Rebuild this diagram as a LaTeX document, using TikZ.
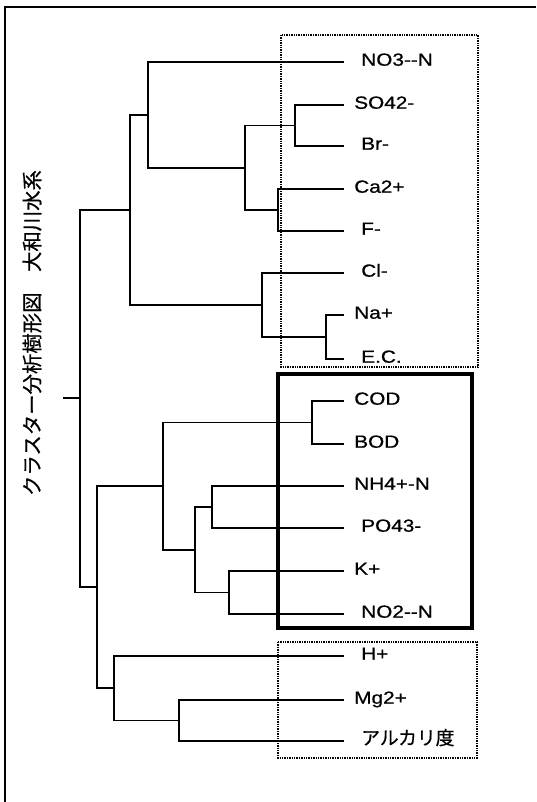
\documentclass[tikz,border=0pt]{standalone}
\usepackage{fontspec}
\usepackage{tikz}
\setmainfont{Liberation Sans}
\newfontfamily\labelfont{Liberation Sans}[FakeStretch=1.18, FakeBold=0.7]
\newfontfamily\jpfont{Noto Sans CJK JP}[FakeBold=0.6]

\begin{document}
\begin{tikzpicture}[
    x=0.75pt, y=-0.75pt,
    leaf/.style={anchor=base west, inner sep=0pt, yshift=-2.8pt,
      font=\labelfont\fontsize{13.2}{15}\selectfont},
    jleaf/.style={leaf, font=\jpfont\fontsize{14.1}{16}\selectfont},
    heading/.style={rotate=90, inner sep=0pt, font=\jpfont\fontsize{15.3}{17}\selectfont},
    link/.style={line width=1.4pt, line join=miter},
    dotbox/.style={line width=1.3pt, dash pattern=on 1.1pt off 0.7pt},
    solidbox/.style={line width=2.4pt},
    frame/.style={line width=0.9pt}
  ]
    \useasboundingbox (0,0) rectangle (536,802);
    \draw[frame] (5,802) -- (5,7) -- (536,7);

    \node[heading] (title) at (32,333) {クラスター分析樹形図　大和川水系};

    % leaves
    \coordinate (no3e) at (344,62);   \node[leaf] (no3) at (361,62) {NO3-{}-N};
    \coordinate (so42e) at (344,105); \node[leaf] (so42) at (354,105) {SO42-};
    \coordinate (bre) at (344,146);   \node[leaf] (br) at (361,146) {Br-};
    \coordinate (cae) at (344,189);   \node[leaf] (ca) at (354,189) {Ca2+};
    \coordinate (fe) at (344,231);    \node[leaf] (f) at (361,231) {F-};
    \coordinate (cle) at (344,273);   \node[leaf] (cl) at (361,273) {Cl-};
    \coordinate (nae) at (344,315);   \node[leaf] (na) at (354,315) {Na+};
    \coordinate (ece) at (344,359);   \node[leaf] (ec) at (361,359) {E.C.};
    \coordinate (code) at (344,401);  \node[leaf] (cod) at (354,401) {COD};
    \coordinate (bode) at (344,444);  \node[leaf] (bod) at (354,444) {BOD};
    \coordinate (nh4e) at (344,486);  \node[leaf] (nh4) at (354,486) {NH4+-N};
    \coordinate (po4e) at (344,528);  \node[leaf] (po4) at (361,528) {PO43-};
    \coordinate (ke) at (344,571);    \node[leaf] (k) at (354,571) {K+};
    \coordinate (no2e) at (344,614);  \node[leaf] (no2) at (361,614) {NO2-{}-N};
    \coordinate (he) at (344,656);    \node[leaf] (h) at (361,656) {H+};
    \coordinate (mge) at (344,700);   \node[leaf] (mg) at (354,700) {Mg2+};
    \coordinate (alke) at (344,741);  \node[jleaf] (alk) at (361,741) {アルカリ度};

    % joins
    \coordinate (sobr) at (295,125.5);
    \coordinate (caf) at (278,210);
    \coordinate (sbcf) at (245,168);
    \coordinate (no3j) at (148,115);
    \coordinate (naec) at (326,337);
    \coordinate (clj) at (262,305);
    \coordinate (topj) at (130,210);
    \coordinate (codbod) at (312,422.5);
    \coordinate (nhpo) at (212,507);
    \coordinate (kno) at (229,592.5);
    \coordinate (nhk) at (195,550);
    \coordinate (midj) at (163,486);
    \coordinate (mgalk) at (179,720.5);
    \coordinate (hj) at (114,688);
    \coordinate (botj) at (97,587);
    \coordinate (rootj) at (80,398);
    \coordinate (stub) at (63,398);

    \draw[link] (so42e) -| (sobr) |- (bre);
    \draw[link] (cae) -| (caf) |- (fe);
    \draw[link] (sobr) -| (sbcf) |- (caf);
    \draw[link] (no3e) -| (no3j) |- (sbcf);
    \draw[link] (nae) -| (naec) |- (ece);
    \draw[link] (cle) -| (clj) |- (naec);
    \draw[link] (no3j) -| (topj) |- (clj);
    \draw[link] (code) -| (codbod) |- (bode);
    \draw[link] (nh4e) -| (nhpo) |- (po4e);
    \draw[link] (ke) -| (kno) |- (no2e);
    \draw[link] (nhpo) -| (nhk) |- (kno);
    \draw[link] (codbod) -| (midj) |- (nhk);
    \draw[link] (mge) -| (mgalk) |- (alke);
    \draw[link] (he) -| (hj) |- (mgalk);
    \draw[link] (midj) -| (botj) |- (hj);
    \draw[link] (topj) -| (rootj) |- (botj);
    \draw[link] (rootj) -- (stub);

    % groups
    \draw[dotbox] (281,35) rectangle (478,367);
    \draw[solidbox] (278,374) rectangle (472,628);
    \draw[dotbox] (278,642) rectangle (477,758);
\end{tikzpicture}
\end{document}
